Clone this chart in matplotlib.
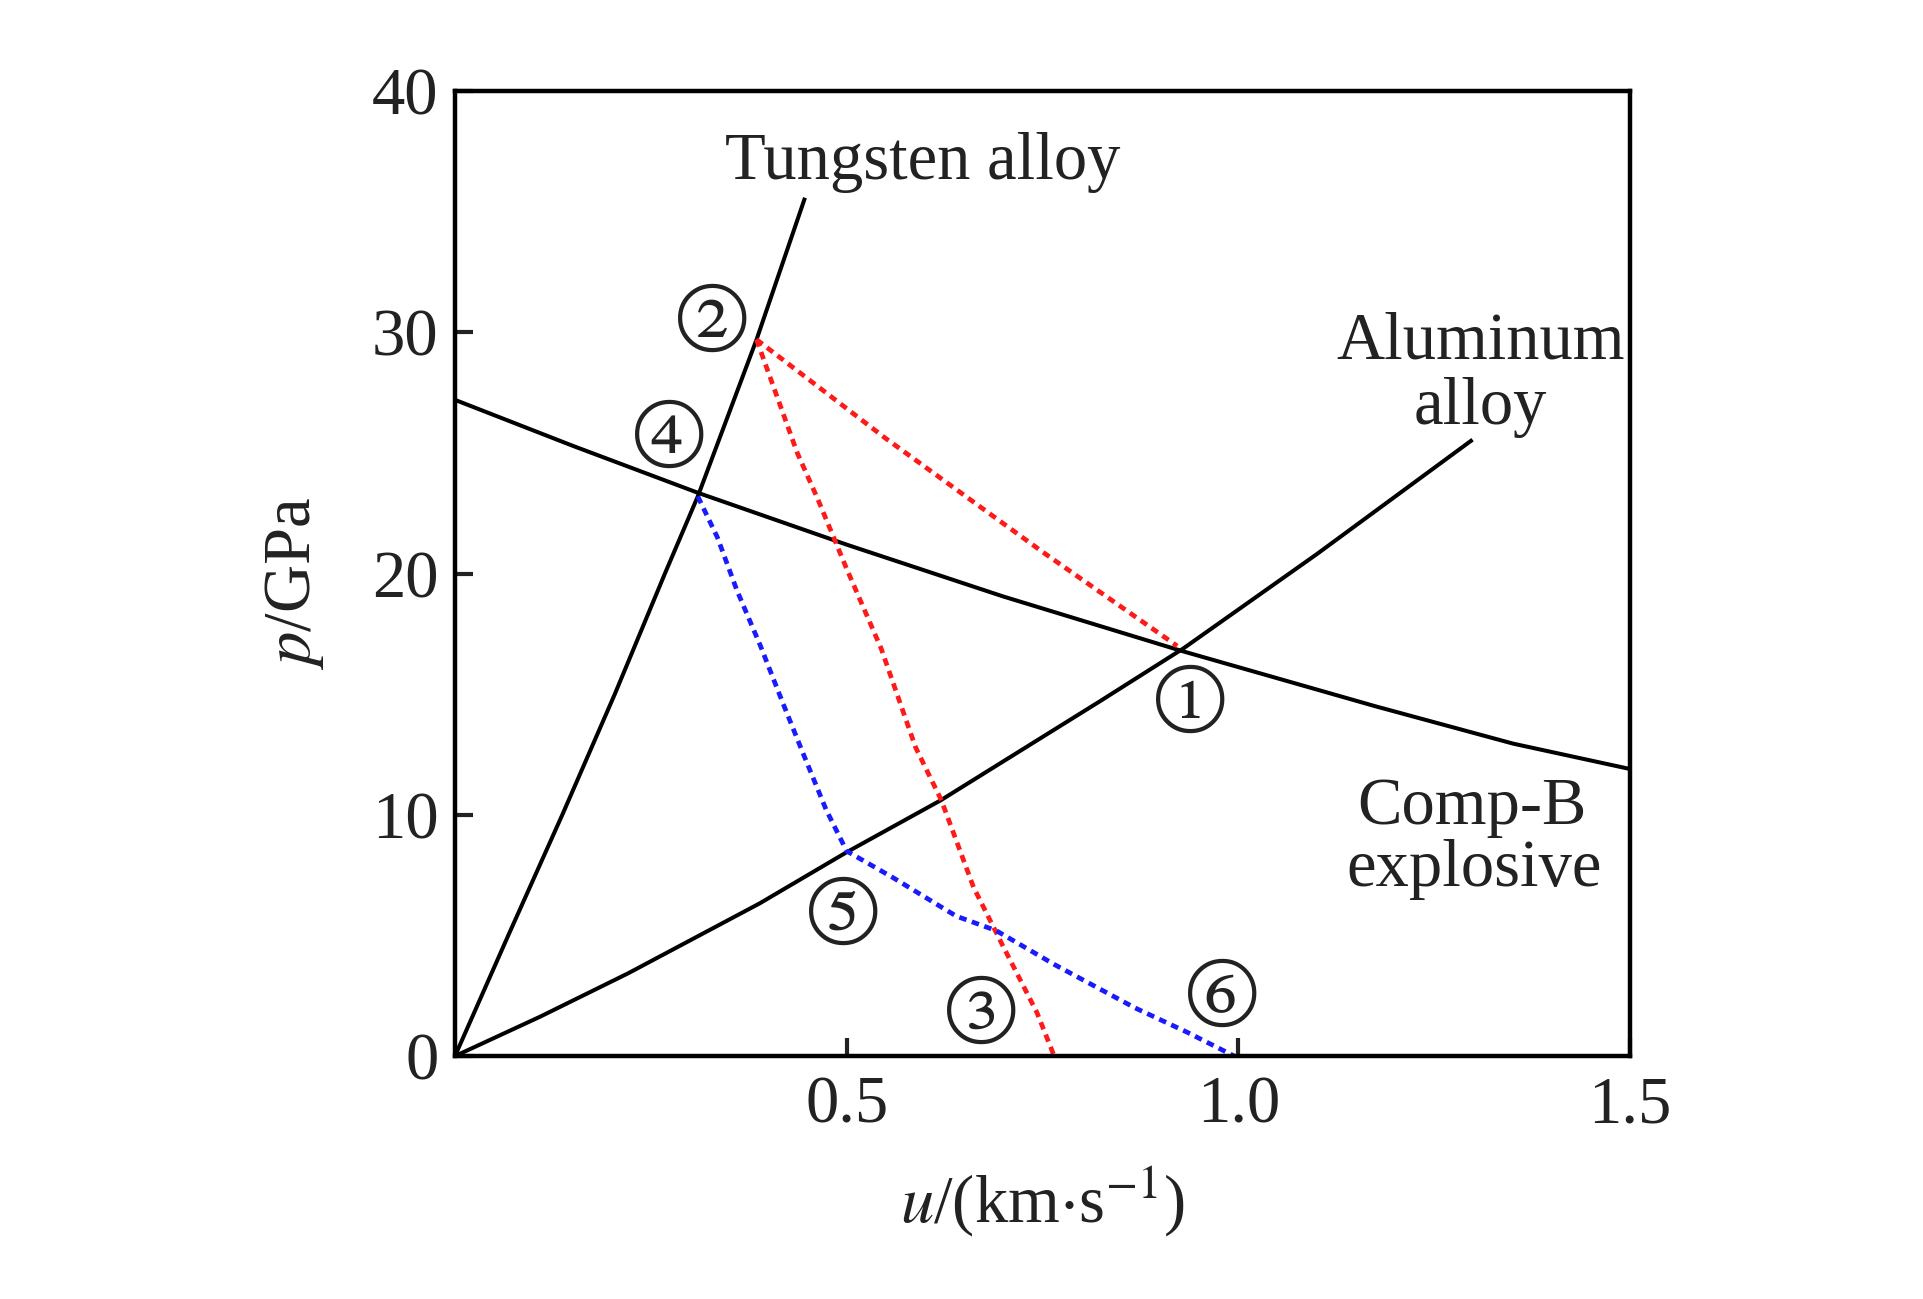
import matplotlib
matplotlib.use('Agg')
import matplotlib.pyplot as plt

plt.rcParams['font.family'] = ['Liberation Serif', 'DejaVu Serif']
plt.rcParams['mathtext.fontset'] = 'stix'

# Shock Hugoniot curves, u in km/s, p in GPa
tungsten_u = [0, 0.068, 0.137, 0.204, 0.268, 0.31, 0.385, 0.446]
tungsten_p = [0, 5.0, 10.0, 15.0, 20.0, 23.2, 29.7, 35.5]

aluminum_u = [0, 0.1085, 0.221, 0.389, 0.5, 0.62, 0.823, 0.93, 1.1, 1.297]
aluminum_p = [0, 1.63, 3.43, 6.33, 8.45, 10.6, 14.7, 16.9, 20.8, 25.5]

compb_u = [0, 0.15, 0.31, 0.5, 0.7, 0.927, 1.175, 1.351, 1.5]
compb_p = [27.2, 25.3, 23.35, 21.2, 19.05, 16.8, 14.5, 12.95, 11.9]

# red dotted: 2 -> 1 and 2 -> 3
red1_u = [0.385, 0.55, 0.75, 0.922]
red1_p = [29.7, 25.6, 20.9, 17.0]
red2_u = [0.385, 0.437, 0.463, 0.5, 0.544, 0.588, 0.621, 0.662, 0.699, 0.743, 0.765]
red2_p = [29.7, 25.0, 23.1, 20.2, 16.9, 12.8, 10.6, 7.0, 4.6, 1.8, 0]

# blue dotted: 4 -> 5 -> 6
blue_u = [0.31, 0.335, 0.36, 0.39, 0.419, 0.445, 0.474, 0.5, 0.559, 0.64,
          0.691, 0.765, 0.868, 0.934, 0.995]
blue_p = [23.2, 21.5, 19.3, 17.0, 14.6, 12.5, 10.2, 8.5, 7.4, 5.8,
          5.2, 3.8, 2.0, 1.0, 0]

# state point labels
point_labels = ['\u2460', '\u2461', '\u2462', '\u2463', '\u2464', '\u2465']
point_u = [0.938, 0.328, 0.672, 0.274, 0.495, 0.98]
point_p = [14.4, 30.2, 1.5, 25.4, 5.6, 2.2]

xticks = [0.5, 1.0, 1.5]
xtick_labels = ['0.5', '1.0', '1.5']
yticks = [0, 10, 20, 30, 40]

fig = plt.figure(figsize=(19.23, 12.99), dpi=100)
ax = fig.add_axes([0.2366, 0.187, 0.611, 0.7429])

ax.plot(tungsten_u, tungsten_p, color='black', lw=2.9)
ax.plot(aluminum_u, aluminum_p, color='black', lw=2.9)
ax.plot(compb_u, compb_p, color='black', lw=2.9)
dots = (0, (1.6, 1.2))
ax.plot(red1_u, red1_p, color='#ff1a1a', lw=3.4, linestyle=dots)
ax.plot(red2_u, red2_p, color='#ff1a1a', lw=3.4, linestyle=dots)
ax.plot(blue_u, blue_p, color='#1a1aff', lw=3.4, linestyle=dots)

for lab, u, p in zip(point_labels, point_u, point_p):
    ax.text(u, p, lab, fontsize=72, ha='center', va='center',
            family=['STIXGeneral', 'DejaVu Sans'], color='#222222')

txt = dict(fontsize=48, ha='center', va='baseline', color='#222222')
ax.text(0.597, 36.34, 'Tungsten alloy', **txt)
ax.text(1.309, 28.92, 'Aluminum', **txt)
ax.text(1.309, 26.18, 'alloy', **txt)
ax.text(1.298, 9.6, 'Comp-B', **txt)
ax.text(1.301, 7.07, 'explosive', **txt)

ax.set_xlim(0, 1.5)
ax.set_ylim(0, 40)
ax.set_xticks(xticks)
ax.set_xticklabels(xtick_labels)
ax.set_yticks(yticks)
ax.tick_params(direction='in', length=13, width=3, labelsize=48,
               colors='#222222')
ax.tick_params(axis='x', pad=14)
ax.tick_params(axis='y', pad=12)
for s in ax.spines.values():
    s.set_linewidth(3.2)

ax.text(0.5, -0.151, r'$u$/(km$\cdot$s$^{-1}$)', transform=ax.transAxes,
        fontsize=48, ha='center', va='center', color='#222222')
ax.text(-0.137, 0.49, r'$p$/GPa', transform=ax.transAxes, rotation=90,
        fontsize=48, ha='center', va='center', color='#222222')

plt.savefig('out.png', dpi=100)
